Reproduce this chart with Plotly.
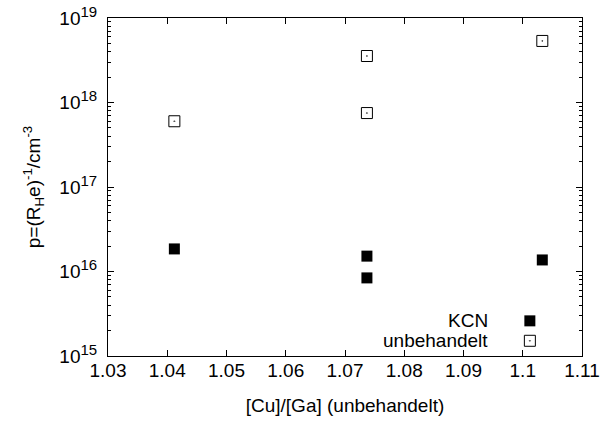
import plotly.graph_objects as go

# data
kcn_x = [1.0412, 1.0737, 1.0737, 1.1033]
kcn_y = [1.85e16, 1.52e16, 8.4e15, 1.37e16]
unb_x = [1.0412, 1.0737, 1.0737, 1.1033]
unb_y = [6.0e17, 3.55e18, 7.5e17, 5.35e18]
legend_labels = ["KCN", "unbehandelt"]
x_ticks = [1.03, 1.04, 1.05, 1.06, 1.07, 1.08, 1.09, 1.1, 1.11]
x_ticktext = ["1.03", "1.04", "1.05", "1.06", "1.07", "1.08", "1.09", "1.1", "1.11"]
y_exps = [15, 16, 17, 18, 19]

FONT = "Liberation Sans, Arial, sans-serif"
FS = 19

minor_vals = [m * 10 ** e for e in y_exps[:-1] for m in range(2, 10)]

fig = go.Figure()
fig.add_trace(go.Scatter(x=kcn_x, y=kcn_y, mode="markers", showlegend=False,
                         marker=dict(symbol="square", size=11, color="black")))
fig.add_trace(go.Scatter(x=unb_x, y=unb_y, mode="markers", showlegend=False,
                         marker=dict(symbol="square-open-dot", size=11, color="black",
                                     line=dict(width=1, color="black"))))

# legend markers on overlay axis
leg_x = [0.89, 0.89]
leg_y = [0.104, 0.045]
fig.add_trace(go.Scatter(x=[leg_x[0]], y=[leg_y[0]], xaxis="x2", yaxis="y2", mode="markers",
                         showlegend=False, marker=dict(symbol="square", size=11, color="black")))
fig.add_trace(go.Scatter(x=[leg_x[1]], y=[leg_y[1]], xaxis="x2", yaxis="y2", mode="markers",
                         showlegend=False,
                         marker=dict(symbol="square-open-dot", size=11, color="black",
                                     line=dict(width=1, color="black"))))
for lbl, yy in zip(legend_labels, leg_y):
    fig.add_annotation(x=0.805, y=yy, xref="x2", yref="y2", text=lbl, showarrow=False,
                       xanchor="right", yanchor="middle", font=dict(size=FS, family=FONT, color="black"))

fig.update_layout(
    width=607, height=422,
    margin=dict(l=108, r=25, t=18, b=66),
    paper_bgcolor="white", plot_bgcolor="white",
    font=dict(family=FONT, size=FS, color="black"),
    xaxis=dict(range=[1.03, 1.11], tickvals=x_ticks, ticktext=x_ticktext,
               ticks="inside", ticklen=6, tickcolor="black", showline=True, linecolor="black",
               linewidth=1, mirror="allticks", showgrid=False, zeroline=False,
               ticklabelstandoff=-3, automargin=False,
               title=dict(text="[Cu]/[Ga] (unbehandelt)", font=dict(size=FS), standoff=18)),
    yaxis=dict(type="log", range=[15, 19], tickvals=[10 ** e for e in y_exps],
               ticktext=["10<sup><span style='font-size:15px'>%d</span></sup>" % e for e in y_exps],
               ticks="inside", ticklen=6, tickcolor="black", showline=True, linecolor="black",
               linewidth=1, mirror="allticks", showgrid=False, zeroline=False,
               ticklabelstandoff=6, automargin=False,
               minor=dict(ticks="inside", ticklen=3, tickcolor="black", showgrid=False,
                          tickmode="array", tickvals=minor_vals),
               title=dict(text="p=(R<sub>H</sub>e)<sup>-1</sup>/cm<sup>-3</sup>", font=dict(size=FS), standoff=13)),
    xaxis2=dict(overlaying="x", range=[0, 1], visible=False),
    yaxis2=dict(overlaying="y", range=[0, 1], visible=False),
)

fig.write_html("out.html")
